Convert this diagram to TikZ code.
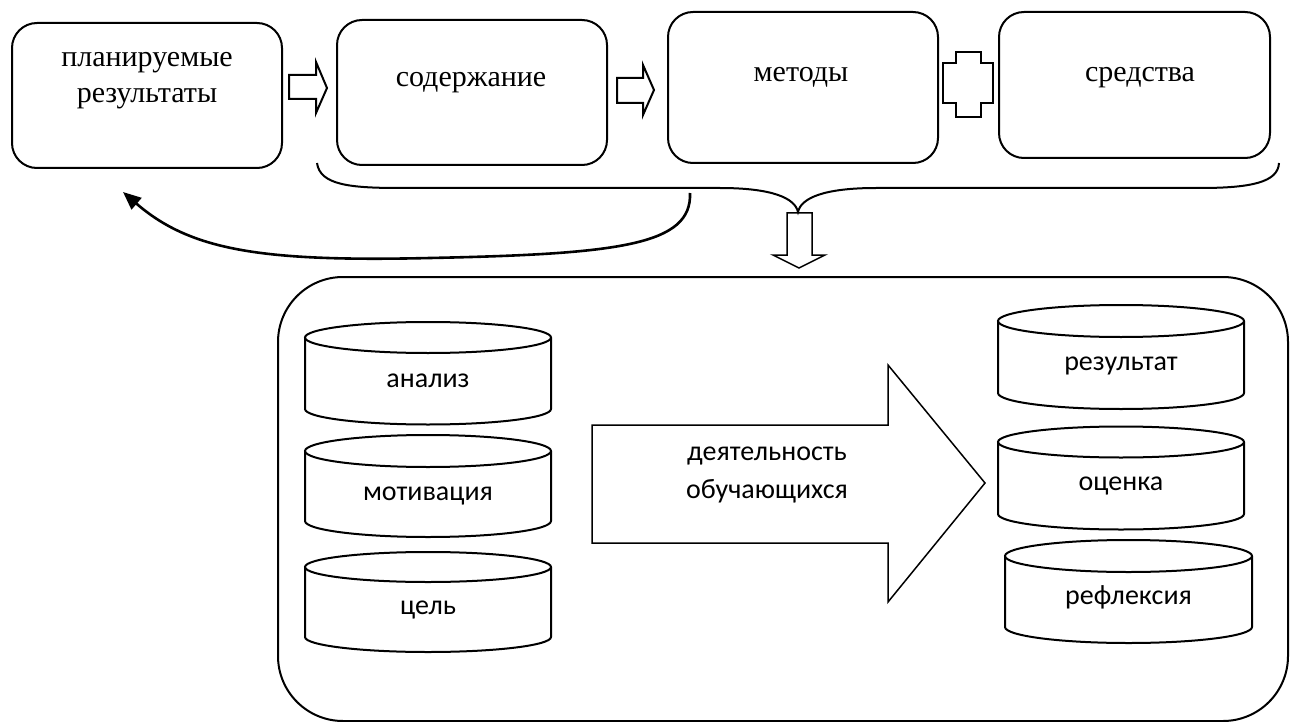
\documentclass[tikz,border=0pt]{standalone}
\usepackage{fontspec}
\setmainfont{Liberation Serif}
\newfontfamily\calfont{Carlito}
\usetikzlibrary{arrows.meta}
\newcommand\mycyl[8]{%
  \draw (#2-#3,#4) -- (#2-#3,#5) arc[start angle=180,end angle=360,x radius=#3pt,y radius=#6pt] -- (#2+#3,#4);
  \draw (#2,#4) ellipse[x radius=#3pt,y radius=#6pt];
  \node[btext,anchor=base] (#1) at (#2,#7) {#8};}
\begin{document}
\begin{tikzpicture}[x=1pt,y=-1pt,line width=2pt,
  tbox/.style={draw,rounded corners=25pt,inner sep=0pt},
  ttext/.style={font=\fontsize{30}{35}\selectfont,inner sep=0pt},
  btext/.style={font=\calfont\fontsize{28}{38}\selectfont,inner sep=0pt},
  blockarrow/.style={draw,line width=2pt,line join=miter},
  thinarrow/.style={draw,line width=1.5pt,line join=miter},
  curvearrow/.style={line width=2.6pt,-{Triangle[length=18pt,width=15pt]}}]
\useasboundingbox (0,0) rectangle (1290,722);
% top boxes
\node[tbox,minimum width=270pt,minimum height=145pt] (b1) at (147,95.5) {};
\node[tbox,minimum width=270pt,minimum height=145pt] (b2) at (472,92.5) {};
\node[tbox,minimum width=270pt,minimum height=151pt] (b3) at (803,87.5) {};
\node[tbox,minimum width=271pt,minimum height=146pt] (b4) at (1134.5,85) {};
\node[ttext,anchor=base] (t1a) at (147,67) {планируемые};
\node[ttext,anchor=base] (t1b) at (147,103) {результаты};
\node[ttext,anchor=base] (t2) at (471,87) {содержание};
\node[ttext,anchor=base] (t3) at (801,82) {методы};
\node[ttext,anchor=base] (t4) at (1140,82) {средства};
% block arrows between boxes
\draw[blockarrow] (289,75) -- (316,75) -- (316,62) -- (327,88) -- (316,113) -- (316,99) -- (289,99) -- cycle;
\draw[blockarrow] (617,78) -- (643,78) -- (643,65) -- (654,90) -- (643,115) -- (643,103) -- (617,103) -- cycle;
\draw[blockarrow] (956,52) -- (981,52) -- (981,63) -- (993,63) -- (993,103) -- (981,103) -- (981,117) -- (956,117) -- (956,103) -- (943,103) -- (943,63) -- (956,63) -- cycle;
% brace
\coordinate (bl) at (317,163);
\coordinate (bm) at (798,212);
\coordinate (br) at (1279,163);
\draw (bl) .. controls (320,185) and (350,188) .. (400,188) -- (720,188)
  .. controls (772,188) and (795,198) .. (bm)
  .. controls (801,198) and (824,188) .. (876,188) -- (1200,188)
  .. controls (1252,188) and (1278,182) .. (br);
% down arrow
\draw[thinarrow] (787,213) -- (812,213) -- (812,255) -- (825,255) -- (799,268) -- (773,255) -- (787,255) -- cycle;
% curved arrow back to planned results
\coordinate (cs) at (690,193);
\coordinate (ce) at (123,192);
\draw[curvearrow] (cs) .. controls (692,245) and (620,254) .. (430,258)
  .. controls (260,262) and (190,250) .. (ce);
% big box
\node[draw,rounded corners=65pt,minimum width=1010pt,minimum height=444pt,inner sep=0pt] (big) at (783,499) {};
% left cylinders
\mycyl{c1}{428}{123}{337.5}{409}{15.5}{387}{анализ}
\mycyl{c2}{428}{123}{451}{521}{16}{500}{мотивация}
\mycyl{c3}{428}{123}{567}{637}{15}{614}{цель}
% right cylinders
\mycyl{c4}{1121}{123}{321}{393}{16}{370}{результат}
\mycyl{c5}{1121}{123}{442}{514}{15.5}{490}{оценка}
\mycyl{c6}{1128.5}{123.5}{556}{627}{16}{604}{рефлексия}
% big arrow
\draw[thinarrow] (592,425) -- (888,425) -- (888,365) -- (985,483) -- (888,602) -- (888,543) -- (592,543) -- cycle;
\node[btext,anchor=base] (a1) at (767,460) {деятельность};
\node[btext,anchor=base] (a2) at (767,498) {обучающихся};
\end{tikzpicture}
\end{document}
